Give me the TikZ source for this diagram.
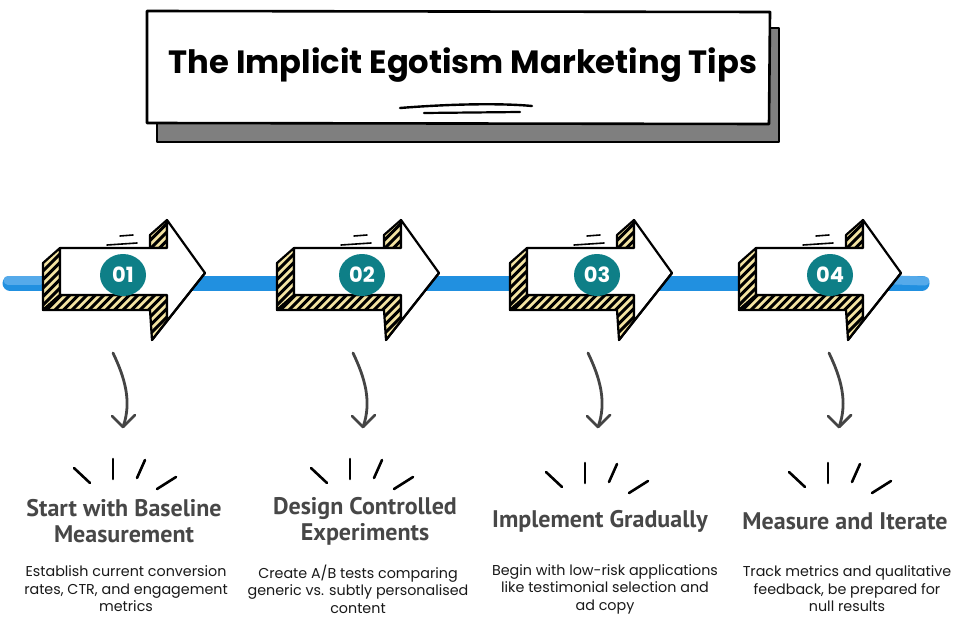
\documentclass[tikz,border=0pt]{standalone}
\usepackage{fontspec}
\setmainfont{Poppins}
\newfontfamily\headfont{PT Sans}
\newfontfamily\titlefont{Poppins}
\usetikzlibrary{shapes.geometric}
\definecolor{lineblue}{HTML}{2190E0}
\definecolor{lightblue}{HTML}{55AAEA}
\definecolor{tealc}{HTML}{0E7F87}
\definecolor{hatchyel}{HTML}{F3E3A2}
\definecolor{headgray}{HTML}{474747}
\definecolor{arrgray}{HTML}{444444}
\definecolor{shadowgray}{HTML}{7F7F7F}
\tikzset{
  edge/.style={draw=black, line width=2.2pt, line join=round, line cap=round},
  hatchline/.style={black, line width=3pt},
  numc/.style={ellipse, fill=tealc, minimum width=46pt, minimum height=42pt, inner sep=0pt,
    text=white, font=\fontsize{21}{21}\selectfont\bfseries},
  headtxt/.style={align=center, text=headgray, font=\headfont\fontsize{24}{26}\selectfont\bfseries},
  bodytxt/.style={align=center, text=black!90, font=\fontsize{14.3}{17.5}\selectfont},
  curv/.style={arrgray, line width=2.8pt, line cap=round, line join=round},
  burst/.style={black, line width=2.6pt, line cap=round},
}
\newcommand\hatchface[1]{%
  \begin{scope}
    \clip #1;
    \fill[hatchyel] (20,200) rectangle (230,360);
    \foreach \k in {0,...,40} \draw[hatchline] (\k*8.5-80,360) -- ++(150,-150);
  \end{scope}
  \draw[edge] #1;}
\newcommand\bigarrow[3]{%
  \begin{scope}[shift={(#1,0)}]
    \hatchface{(60,248) -- (43,263) -- (43,310) -- (60,295) -- cycle}
    \hatchface{(60,295) -- (167,295) -- (167,321) -- (152,340) -- (150,310) -- (43,310) -- cycle}
    \hatchface{(150,248) -- (150,235) -- (167,220) -- (167,248) -- cycle}
    \draw[edge, fill=white] (60,248) -- (167,248) -- (167,220) -- (205,273) -- (167,321) -- (167,295) -- (60,295) -- cycle;
    \draw[edge] (205,273) -- (152,340);
    \draw[black, line width=1.6pt, line cap=round] (107,245) -- (137,243);
    \draw[black, line width=1.6pt, line cap=round] (120,236) -- (133,235);
    \node[numc] (num#3) at (#2,275) {#3};
  \end{scope}}
\newcommand\burstlines[2]{%
  \begin{scope}[shift={(#1,#2)}]
    \draw[burst] (74,468) -- (90,483);
    \draw[burst] (113,459) -- (113,479);
    \draw[burst] (145,460) -- (137,478);
    \draw[burst] (176,477) -- (157,489);
  \end{scope}}
\newcommand\downarr[2]{%
  \begin{scope}[shift={(#1,0)}]
    \coordinate (ds#2) at (113,353);
    \coordinate (de#2) at (123,427);
    \draw[curv] (ds#2) .. controls (125,378) and (132,402) .. (de#2);
    \draw[curv] (112,416) -- (de#2) -- (135,415);
  \end{scope}}
\begin{document}
\begin{tikzpicture}[x=1pt,y=-1pt]
\useasboundingbox (0,0) rectangle (965,626);
\fill[white] (0,0) rectangle (965,626);
% title
\draw[edge, fill=shadowgray] (157,28) -- (779,28) -- (779,142) -- (157,142) -- cycle;
\draw[edge, fill=white, line width=2.6pt] (147,11) -- (770,12) -- (769,124) -- (147,123) -- cycle;
\node[font=\titlefont\fontsize{32.2}{32}\selectfont\bfseries] (title) at (463,65) {The Implicit Egotism Marketing Tips};
\draw[black, line width=2.4pt, line cap=round] (400,108) .. controls (450,104) and (500,103) .. (532,106);
\draw[black, line width=2.2pt, line cap=round] (424,113) -- (520,112);
% blue line
\draw[lineblue, line width=15pt, line cap=round] (10,283) -- (922,283);
\draw[lightblue, line width=9pt, line cap=round] (8,280) -- (40,280);
\draw[lightblue, line width=9pt, line cap=round] (895,280) -- (925,281);
% arrows
\bigarrow{0}{123}{01}
\bigarrow{234}{128}{02}
\bigarrow{467}{130}{03}
\bigarrow{696}{134}{04}
% down arrows
\downarr{0}{1}
\downarr{240}{2}
\downarr{475}{3}
\downarr{716}{4}
% bursts
\burstlines{0}{0}
\burstlines{237}{0}
\burstlines{472}{4}
\burstlines{715}{4}
% headings
\node[headtxt] (h1) at (124,521) {Start with Baseline\\Measurement};
\node[headtxt] (h2) at (365,521) {Design Controlled\\Experiments};
\node[headtxt] (h3) at (600,521) {Implement Gradually};
\node[headtxt] (h4) at (845,521) {Measure and Iterate};
% body
\node[bodytxt] (b1) at (126,589) {Establish current conversion\\rates, CTR, and engagement\\metrics};
\node[bodytxt] (b2) at (358,589) {Create A/B tests comparing\\generic vs. subtly personalised\\content};
\node[bodytxt] (b3) at (605,589) {Begin with low-risk applications\\like testimonial selection and\\ad copy};
\node[bodytxt] (b4) at (847,589) {Track metrics and qualitative\\feedback, be prepared for\\null results};
\end{tikzpicture}
\end{document}
